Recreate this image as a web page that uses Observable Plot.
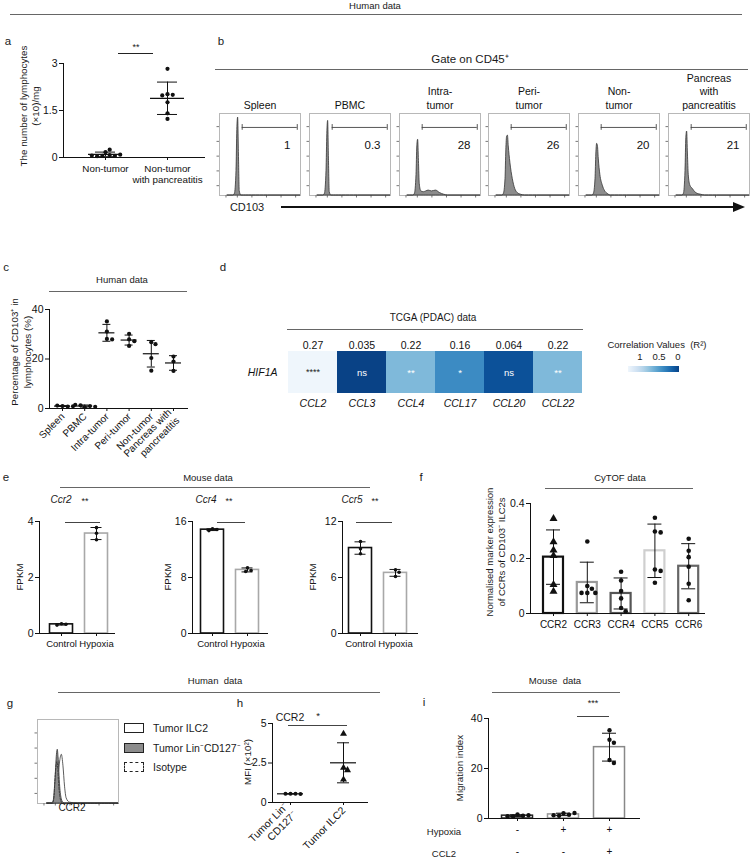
<!DOCTYPE html>
<html><head><meta charset="utf-8">
<script src="https://cdn.jsdelivr.net/npm/d3@7"></script>
<script src="https://cdn.jsdelivr.net/npm/@observablehq/plot@0.6"></script>
<style>
html,body{margin:0;padding:0;background:#fff;}
#fig{position:relative;width:750px;height:859px;overflow:hidden;font-family:"Liberation Sans",Arial,Helvetica,sans-serif;color:#1a1a1a;}
#fig svg{position:absolute;overflow:visible;}
.lbl{position:absolute;white-space:pre;line-height:1.15;}
.ln{position:absolute;}
</style></head><body><div id="fig"></div>
<script>
// ================= DATA =================
// a
const aCats = ["Non-tumor", "Non-tumor\nwith pancreatitis"];
const aNonTumor = [0.17, 0.25, 0.08, 0.05, 0.04, 0.05, 0.06, 0.09];
const aPancreatitis = [2.83, 2.02, 2.0, 1.98, 1.76, 1.41, 1.23];
const aTicks = [0, 1.5, 3];
// b
const bSamples = ["Spleen", "PBMC", "Intra-\ntumor", "Peri-\ntumor", "Non-\ntumor", "Pancreas\nwith\npancreatitis"];
const bPercent = ["1", "0.3", "28", "26", "20", "21"];
const bGrid     = [0.10, 0.17, 0.19, 0.21, 0.22, 0.23, 0.24, 0.25, 0.27, 0.30, 0.33, 0.36, 0.40, 0.45, 0.50, 0.55, 0.60, 1.0];
const bSpleen   = [0, 0, 0.02, 0.30, 0.80, 0.95, 0.50, 0.05, 0, 0, 0, 0, 0, 0, 0, 0, 0, 0];
const bPBMC     = [0, 0, 0.02, 0.30, 0.75, 0.91, 0.45, 0.04, 0, 0, 0, 0, 0, 0, 0, 0, 0, 0];
const bIntra    = [0, 0, 0.02, 0.25, 0.60, 0.68, 0.42, 0.14, 0.05, 0.04, 0.05, 0.06, 0.05, 0.06, 0.03, 0.01, 0, 0];
const bPeri     = [0, 0, 0.02, 0.20, 0.55, 0.72, 0.73, 0.60, 0.40, 0.20, 0.08, 0.03, 0.01, 0, 0, 0, 0, 0];
const bNon      = [0, 0, 0.02, 0.20, 0.50, 0.63, 0.60, 0.45, 0.25, 0.12, 0.05, 0.02, 0, 0, 0, 0, 0, 0];
const bPancreas = [0, 0, 0.02, 0.30, 0.70, 0.78, 0.50, 0.25, 0.12, 0.08, 0.04, 0.02, 0.01, 0, 0, 0, 0, 0];
const bCurves = [bSpleen, bPBMC, bIntra, bPeri, bNon, bPancreas];
const bGate = {from: 0.28, to: 0.96, level: 0.83};
// c
const cCats = ["Spleen", "PBMC", "Intra-tumor", "Peri-tumor", "Non-tumor", "Pancreas with\npancreatitis"];
const cValues = [[1.0, 0.8, 1.2, 0.9], [0.5, 1.0, 1.3, 1.5, 0.7], [35.2, 31.1, 28.1, 27.9], [30.2, 27.9, 27.2, 25.3], [26.8, 26.0, 20.4, 15.3], [21.0, 19.0, 15.2]];
const cTicks = [0, 20, 40];
// d
const dGenes = ["CCL2", "CCL3", "CCL4", "CCL17", "CCL20", "CCL22"];
const dR2 = [0.27, 0.035, 0.22, 0.16, 0.064, 0.22];
const dR2Label = ["0.27", "0.035", "0.22", "0.16", "0.064", "0.22"];
const dSig = ["****", "ns", "**", "*", "ns", "**"];
const dRow = "HIF1A";
const dLegendTicks = ["1", "0.5", "0"];
// e
const eCats = ["Control", "Hypoxia"];
const eGenes = ["Ccr2", "Ccr4", "Ccr5"];
const eCcr2 = [[0.35, 0.33, 0.30], [3.78, 3.58, 3.35]];
const eCcr4 = [[14.95, 14.85, 14.7], [9.4, 9.0, 8.85]];
const eCcr5 = [[9.86, 9.07, 8.54], [6.82, 6.57, 6.1]];
const eTicks = [[0, 2, 4], [0, 8, 16], [0, 6, 12]];
// f
const fCats = ["CCR2", "CCR3", "CCR4", "CCR5", "CCR6"];
const fValues = [[0.345, 0.26, 0.23, 0.21, 0.105, 0.08], [0.262, 0.1, 0.09, 0.075, 0.075, 0.075], [0.152, 0.12, 0.082, 0.055, 0.02, 0.008], [0.348, 0.298, 0.295, 0.16, 0.155, 0.112], [0.272, 0.228, 0.205, 0.17, 0.108, 0.048]];
const fTicks = [0, 0.2, 0.4];
// g
const gSeries = ["Tumor ILC2", "Tumor Lin⁻CD127⁻", "Isotype"];
const gGrid = [0.12, 0.18, 0.20, 0.22, 0.24, 0.25, 0.26, 0.28, 0.30, 0.32, 0.34, 0.36, 0.40, 0.50, 1.0];
const gILC2 = [0, 0, 0, 0.02, 0.10, 0.20, 0.32, 0.50, 0.58, 0.45, 0.20, 0.06, 0.01, 0, 0];
const gLin  = [0, 0, 0.03, 0.25, 0.58, 0.64, 0.55, 0.20, 0.05, 0.01, 0, 0, 0, 0, 0];
const gIso  = [0, 0, 0.05, 0.35, 0.50, 0.42, 0.25, 0.06, 0.01, 0, 0, 0, 0, 0, 0];
// h
const hCats = ["Tumor Lin⁻\nCD127⁻", "Tumor ILC2"];
const hValues = [[0.55, 0.55, 0.56, 0.54], [4.35, 2.2, 2.05, 1.45]];
const hTicks = [0, 2.5, 5];
// i
const iHypoxia = ["-", "+", "+"];
const iCCL2 = ["-", "-", "+"];
const iValues = [[1.6, 1.1, 0.8, 0.9, 1.3], [2.1, 1.5, 1.1, 1.3, 2.2], [35.3, 31.5, 30.3, 23.4, 22.2]];
const iTicks = [0, 20, 40];

// ================= HELPERS =================
const FONT = '"Liberation Sans", Arial, Helvetica, sans-serif';
const fig = document.getElementById("fig");
function txt(s, x, y, o = {}) {
  const d = document.createElement("div");
  d.className = "lbl";
  d.textContent = s;
  const ax = o.anchor === "start" ? "0%" : o.anchor === "end" ? "-100%" : "-50%";
  d.style.left = x + "px"; d.style.top = y + "px";
  d.style.fontSize = (o.size ?? 10) + "px";
  if (o.italic) d.style.fontStyle = "italic";
  if (o.color) d.style.color = o.color;
  d.style.transform = `translate(${ax},-50%)` + (o.rotate ? ` rotate(${o.rotate}deg)` : "");
  fig.appendChild(d);
  return d;
}
function hline(x1, x2, y, color = "#666", w = 1) {
  const d = document.createElement("div");
  d.className = "ln";
  d.style.cssText = `left:${x1}px;top:${y}px;width:${x2 - x1}px;height:${w}px;background:${color};`;
  fig.appendChild(d);
}
function place(node, left, top) {
  node.style.left = left + "px"; node.style.top = top + "px";
  fig.appendChild(node);
}
function swarm(vals, pxPerUnit, r) {
  const placed = [];
  return vals.map(v => {
    const y = v * pxPerUnit;
    let off = 0;
    for (let k = 0; k < 80; k++) {
      const cand = k === 0 ? 0 : Math.ceil(k / 2) * (k % 2 ? 1 : -1) * r * 0.5;
      if (placed.every(p => (p.x - cand) ** 2 + (p.y - y) ** 2 >= (2 * r + 0.4) ** 2)) { off = cand; break; }
    }
    placed.push({x: off, y});
    return off;
  });
}
const baseStyle = {fontFamily: FONT, fontSize: "10px", color: "#111", background: "none", overflow: "visible"};

function catChart(o) {
  const n = o.groups.length;
  const ml = 45, mr = 10, mt = 12, mb = 70;
  const r = o.r ?? 2;
  const pxY = (o.B - o.T) / (o.yDomain[1] - o.yDomain[0]);
  const stats = o.groups.map((v, i) => { const m = d3.mean(v), s = d3.deviation(v); return {i, mean: m, lo: m - s, hi: m + s}; });
  const pts = o.groups.flatMap((v, i) => { const off = swarm(v, pxY, r); return v.map((val, j) => ({i, v: val, x: i + off[j] / o.step})); });
  const xDom = [(o.L - o.c0) / o.step, (o.R - o.c0) / o.step];
  const half = w => w / 2 / o.step;
  const tri = o.tri ?? [];
  const marks = [];
  if (o.bars) marks.push(Plot.rect(stats, {x1: d => d.i - half(o.barW), x2: d => d.i + half(o.barW), y1: 0, y2: "mean", fill: "white", stroke: d => o.barStroke[d.i], strokeWidth: o.barSW ?? 1.5}));
  marks.push(
    Plot.ruleX([xDom[0]], {stroke: "#111", strokeWidth: 1}),
    Plot.ruleY([o.yDomain[0]], {stroke: "#111", strokeWidth: 1}),
    Plot.ruleX(stats, {x: "i", y1: "lo", y2: "hi", stroke: "#111", strokeWidth: 1}),
    Plot.ruleY(stats, {y: "hi", x1: d => d.i - half(o.capW), x2: d => d.i + half(o.capW), stroke: "#111", strokeWidth: 1}),
    Plot.ruleY(stats, {y: "lo", x1: d => d.i - half(o.capW), x2: d => d.i + half(o.capW), stroke: "#111", strokeWidth: 1})
  );
  if (o.meanW) marks.push(Plot.ruleY(stats, {y: "mean", x1: d => d.i - half(o.meanW), x2: d => d.i + half(o.meanW), stroke: "#111", strokeWidth: 1.2}));
  marks.push(Plot.dot(pts.filter(p => !tri.includes(p.i)), {x: "x", y: "v", r, fill: "#111"}));
  if (tri.length) marks.push(Plot.dot(pts.filter(p => tri.includes(p.i)), {x: "x", y: "v", r: r * 1.3, symbol: "triangle", fill: "#111"}));
  marks.push(Plot.axisY({ticks: o.yTicks, tickFormat: o.yFmt ?? (d => String(d)), tickSize: 4, tickPadding: 2, label: null, fontSize: o.tickFont ?? 10.5}));
  marks.push(Plot.axisX({ticks: d3.range(n), tickFormat: i => o.xLabels ? o.xLabels[i] : "", tickSize: 3, tickPadding: 3, tickRotate: o.rot ?? 0, label: null, fontSize: o.xFont ?? 10, lineHeight: 1.15}));
  if (o.extra) marks.push(...o.extra);
  const p = Plot.plot({
    width: o.R - o.L + ml + mr, height: o.B - o.T + mt + mb,
    marginLeft: ml, marginRight: mr, marginTop: mt, marginBottom: mb,
    x: {domain: xDom}, y: {domain: o.yDomain},
    color: {type: "identity"},
    style: baseStyle,
    marks
  });
  place(p, o.L - ml, o.T - mt);
}

function histPlot(o) {
  const ml = 10, mr = 6, mt = 50, mb = 10;
  const marks = [
    Plot.frame({stroke: "#b8b8b8"}),
    Plot.axisY({ticks: [0.12, 0.3, 0.48, 0.66, 0.84], tickSize: 2.5, tickFormat: () => "", label: null, stroke: "#777"}),
    Plot.axisX({ticks: [0.08, 0.22, 0.4, 0.58, 0.76, 0.94], tickSize: 2.5, tickFormat: () => "", label: null, stroke: "#777"})
  ];
  for (const s of o.series) {
    if (s.dash) marks.push(Plot.lineY(s.data, {x: "x", y: "y", stroke: "#333", strokeWidth: 0.9, strokeDasharray: "2,1.5", curve: "monotone-x"}));
    else marks.push(Plot.areaY(s.data, {x: "x", y: "y", fill: s.fill, stroke: "#333", strokeWidth: 0.8, curve: "monotone-x"}));
  }
  if (o.gate) {
    const g = o.gate;
    marks.push(
      Plot.ruleY([g], {y: "level", x1: "from", x2: "to", stroke: "#444", strokeWidth: 0.9}),
      Plot.ruleX([g.from, g.to], {x: d => d, y1: g.level - 0.035, y2: g.level + 0.035, stroke: "#444", strokeWidth: 0.9}),
      Plot.text([o.pct], {text: d => d, frameAnchor: "top-right", textAnchor: "end", dx: -10, dy: 27, fontSize: 11.5})
    );
  }
  if (o.title) marks.push(Plot.text([o.title], {text: d => d, frameAnchor: "top", lineAnchor: "bottom", dy: -5, fontSize: 10.5, lineHeight: 1.28}));
  const p = Plot.plot({
    width: o.w + ml + mr, height: o.h + mt + mb,
    marginLeft: ml, marginRight: mr, marginTop: mt, marginBottom: mb,
    x: {domain: [0, 1]}, y: {domain: [0, 1]},
    style: baseStyle,
    marks
  });
  place(p, o.L - ml, o.T - mt);
}
const toPts = (grid, arr) => grid.map((x, k) => ({x, y: arr[k]}));

// ================= TOP HEADER =================
txt("Human data", 375, 6, {size: 9.5});
hline(10, 742, 14);

// ================= PANEL a =================
txt("a", 8, 42, {size: 11.5});
catChart({groups: [aNonTumor, aPancreatitis], xLabels: aCats, L: 63, R: 205, T: 63, B: 157, c0: 105, step: 62,
  yDomain: [0, 3], yTicks: aTicks, meanW: 34, capW: 20, r: 2.1, xFont: 9.8});
txt("The number of lymphocytes", 24, 106, {size: 9.8, rotate: -90});
txt("(×10)/mg", 36, 106, {size: 9.8, rotate: -90});
txt("**", 136, 47, {size: 9});
hline(118, 153, 53, "#222");

// ================= PANEL b =================
txt("b", 221, 42, {size: 11.5});
txt("Gate on CD45⁺", 470, 60, {size: 11.5});
hline(215, 748, 69);
bSamples.forEach((s, i) => {
  histPlot({L: 219 + i * 89.8, T: 113, w: 81, h: 82, title: s, pct: bPercent[i], gate: bGate,
    series: [{data: toPts(bGrid, bCurves[i]), fill: "#8c8c8c"}]});
});
txt("CD103", 247, 207, {size: 11});
{
  const svg = d3.create("svg").attr("width", 480).attr("height", 12);
  svg.append("line").attr("x1", 0).attr("x2", 455).attr("y1", 6).attr("y2", 6).attr("stroke", "#111").attr("stroke-width", 2);
  svg.append("path").attr("d", "M452,1 L464,6 L452,11 Z").attr("fill", "#111");
  place(svg.node(), 281, 201);
}

// ================= PANEL c =================
txt("c", 6, 268, {size: 11.5});
txt("Human data", 122, 280, {size: 9.5});
hline(49, 187, 291);
catChart({groups: cValues, xLabels: cCats, L: 49, R: 188, T: 309, B: 408, c0: 62, step: 22.2,
  yDomain: [0, 40], yTicks: cTicks, meanW: 16, capW: 8, r: 2.1, rot: -45, xFont: 10});
txt("Percentage of CD103⁺ in", 15, 352, {size: 9.8, rotate: -90});
txt("lymphocytes (%)", 28, 352, {size: 9.8, rotate: -90});

// ================= PANEL d =================
txt("d", 223, 268, {size: 11.5});
txt("TCGA (PDAC) data", 433, 318, {size: 10});
hline(287, 583, 329);
{
  const heat = dGenes.map((g, i) => ({gene: g, row: dRow, r2: dR2[i], label: dR2Label[i], sig: dSig[i]}));
  const rMax = d3.max(dR2), rMin = d3.min(dR2);
  const ml = 70, mr = 10, mt = 24, mb = 24;
  const L = 287, R = 582, T = 351, B = 393;
  const p = Plot.plot({
    width: R - L + ml + mr, height: B - T + mt + mb,
    marginLeft: ml, marginRight: mr, marginTop: mt, marginBottom: mb,
    x: {domain: dGenes, padding: 0}, y: {domain: [dRow], padding: 0},
    color: {type: "sqrt", domain: [0, rMax - rMin], interpolate: t => d3.interpolateBlues(0.04 + 0.89 * t)},
    style: baseStyle,
    marks: [
      Plot.cell(heat, {x: "gene", y: "row", fill: d => rMax - d.r2}),
      Plot.text(heat, {filter: d => d.r2 === rMax, x: "gene", y: "row", text: "sig", fill: "#222", fontSize: 9}),
      Plot.text(heat, {filter: d => d.r2 !== rMax, x: "gene", y: "row", text: "sig", fill: "white", fontSize: 9.5}),
      Plot.text(heat, {x: "gene", text: "label", frameAnchor: "top", lineAnchor: "bottom", dy: -3, fontSize: 10.5}),
      Plot.axisX({anchor: "bottom", tickSize: 0, tickPadding: 6, label: null, fontStyle: "italic", fontSize: 10.5}),
      Plot.axisY({anchor: "left", tickSize: 0, tickPadding: 10, label: null, fontStyle: "italic", fontSize: 10.5})
    ]
  });
  place(p, L - ml, T - mt);
}
txt("Correlation Values  (R²)", 657, 345, {size: 9.5});
{
  const d = document.createElement("div");
  const stops = d3.range(0, 1.0001, 0.1).map(t => d3.interpolateBlues(0.04 + 0.89 * t) + " " + (t * 100) + "%").join(",");
  d.className = "ln";
  d.style.cssText = `left:628px;top:366px;width:51px;height:6px;background:linear-gradient(to right,${stops});`;
  fig.appendChild(d);
  [640, 659, 678].forEach((x, k) => txt(dLegendTicks[k], x, 357, {size: 9.5}));
}

// ================= PANEL e =================
txt("e", 6, 478, {size: 11.5});
txt("Mouse data", 208, 478, {size: 9.5});
hline(60, 370, 487);
const eData = [eCcr2, eCcr4, eCcr5];
const eFrames = [{L: 39, c0: 61, title: 61, star: 85, s1: 65, s2: 100}, {L: 192, c0: 212, title: 206, star: 229, s1: 217, s2: 245}, {L: 342, c0: 360, title: 352, star: 375, s1: 356, s2: 392}];
eData.forEach((g, k) => {
  const f = eFrames[k];
  const top = eTicks[k][2];
  catChart({groups: g, xLabels: eCats, L: f.L, R: f.L + 76, T: 521, B: 633, c0: f.c0, step: 35,
    yDomain: [0, top], yTicks: eTicks[k], bars: true, barW: 23, barStroke: ["#111", "#a8a8a8"], barSW: 1.6,
    capW: 11, r: 1.8, xFont: 9.5});
  txt("FPKM", [20, 168, 313][k], 577, {size: 9.8, rotate: -90});
  txt(eGenes[k], f.title, 500, {size: 10, italic: true});
  txt("**", f.star, 501, {size: 9});
  hline(f.s1, f.s2, 522, "#444");
});

// ================= PANEL f =================
txt("f", 421, 478, {size: 11.5});
txt("CyTOF data", 620, 478, {size: 9.5});
hline(545, 693, 488);
catChart({groups: fValues, xLabels: fCats, L: 530, R: 705, T: 503, B: 613, c0: 553, step: 33.8,
  yDomain: [0, 0.4], yTicks: fTicks, yFmt: d => d === 0 ? "0" : d.toFixed(1), bars: true, barW: 20,
  barStroke: ["#111", "#999", "#555", "#cfcfcf", "#666"], barSW: 2.2, capW: 14, r: 2.3, tri: [0], xFont: 10});
txt("Normalised marker expression", 490, 552, {size: 9.5, rotate: -90});
txt("of CCRs of CD103⁻ ILC2s", 502, 552, {size: 9.5, rotate: -90});

// ================= PANEL g =================
txt("Human  data", 215, 681, {size: 9.5});
hline(58, 380, 692);
txt("g", 10, 704, {size: 11.5});
histPlot({L: 37, T: 719, w: 81, h: 84, series: [
  {data: toPts(gGrid, gILC2), fill: "white"},
  {data: toPts(gGrid, gLin), fill: "#8c8c8c"},
  {data: toPts(gGrid, gIso), dash: true}
]});
txt("CCR2", 72, 808, {size: 10});
{
  const boxes = [{y: 723, bg: "white", border: "1.3px solid #222"}, {y: 743, bg: "#8c8c8c", border: "1.3px solid #222"}, {y: 762, bg: "white", border: "1.3px dashed #222"}];
  boxes.forEach((b, k) => {
    const d = document.createElement("div");
    d.className = "ln";
    d.style.cssText = `left:124px;top:${b.y}px;width:18px;height:8px;background:${b.bg};border:${b.border};`;
    fig.appendChild(d);
    txt(gSeries[k], 153, b.y + 5, {size: 10.5, anchor: "start"});
  });
}

// ================= PANEL h =================
txt("h", 240, 704, {size: 11.5});
catChart({groups: hValues, xLabels: hCats, L: 272, R: 368, T: 723, B: 802, c0: 290, step: 53,
  yDomain: [0, 5], yTicks: hTicks, yFmt: d => String(d), meanW: 26, capW: 12, r: 2, tri: [1], rot: -45, xFont: 10.5});
txt("CCR2", 290, 717, {size: 10.5});
txt("*", 318, 716, {size: 9.5});
hline(288, 347, 725, "#444");
txt("MFI (×10²)", 248, 762, {size: 9.8, rotate: -90});

// ================= PANEL i =================
txt("Mouse  data", 555, 681, {size: 9.5});
hline(492, 620, 692);
txt("i", 424, 703, {size: 11.5});
catChart({groups: iValues, xLabels: null, L: 488, R: 640, T: 718, B: 818, c0: 517, step: 46,
  yDomain: [0, 40], yTicks: iTicks, bars: true, barW: 31, barStroke: ["#222", "#999", "#888"], barSW: 1.5,
  capW: 14, r: 2.2,
  extra: [
    Plot.text(d3.range(3), {x: d => d, text: d => iHypoxia[d], frameAnchor: "bottom", dy: 14, fontSize: 10}),
    Plot.text(d3.range(3), {x: d => d, text: d => iCCL2[d], frameAnchor: "bottom", dy: 36, fontSize: 10})
  ]});
txt("***", 593, 703, {size: 9});
hline(577, 609, 716, "#444");
txt("Migration index", 460, 768, {size: 9.8, rotate: -90});
txt("Hypoxia", 444, 832, {size: 9.5});
txt("CCL2", 444, 854, {size: 9.5});
</script></body></html>
